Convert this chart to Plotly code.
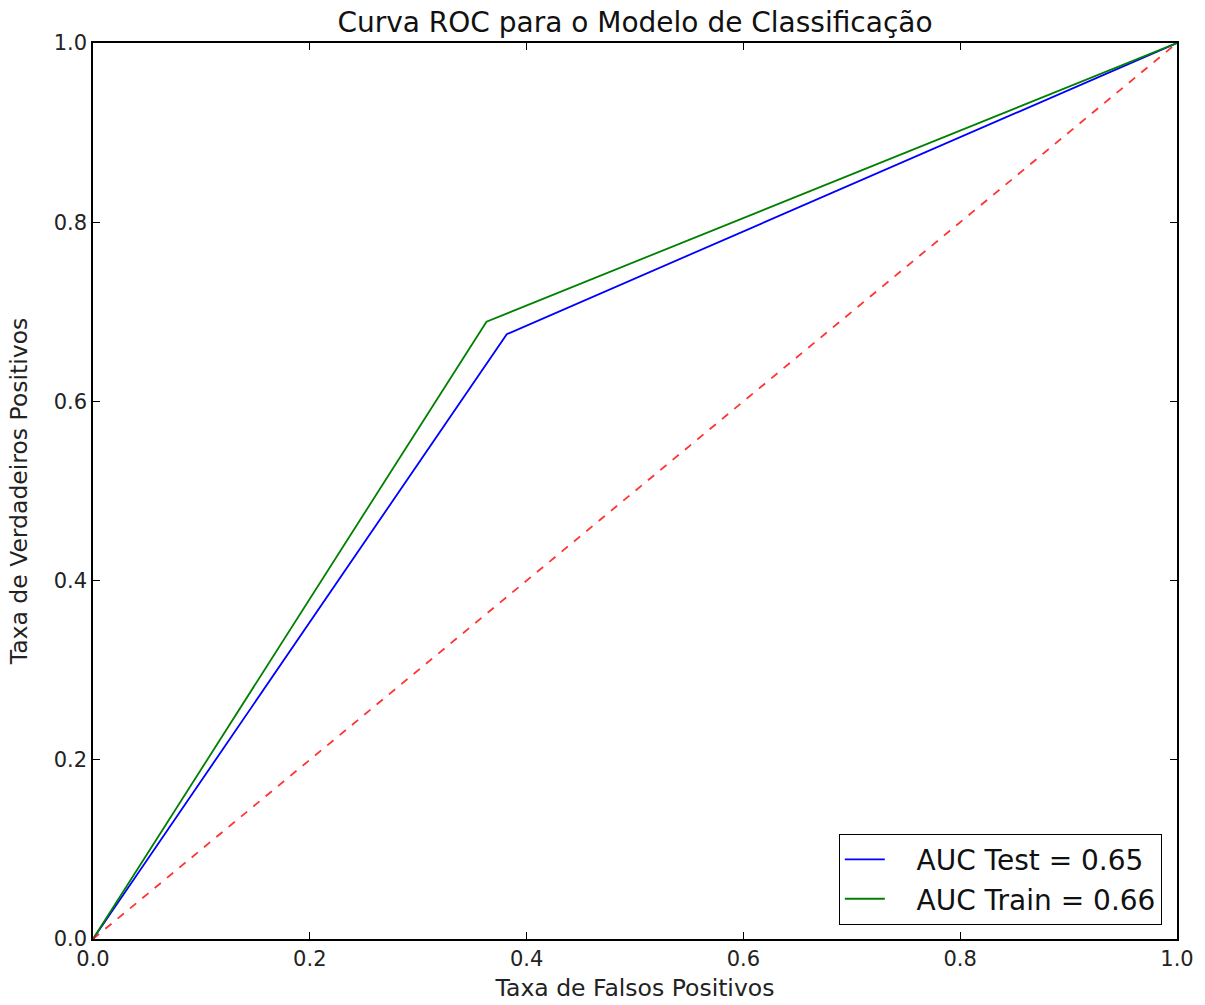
import plotly.graph_objects as go

fpr_test = [0.0, 0.3817, 1.0]
tpr_test = [0.0, 0.675, 1.0]
fpr_train = [0.0, 0.363, 1.0]
tpr_train = [0.0, 0.689, 1.0]
diag = [0.0, 1.0]
auc_test = 0.65
auc_train = 0.66

pad = "\u00a0\u00a0\u00a0"
fig = go.Figure()
fig.add_trace(go.Scatter(x=fpr_test, y=tpr_test, mode="lines",
                         line=dict(color="#0000ff", width=1.8),
                         name=f"{pad}AUC Test = {auc_test:.2f}"))
fig.add_trace(go.Scatter(x=fpr_train, y=tpr_train, mode="lines",
                         line=dict(color="#008000", width=1.8),
                         name=f"{pad}AUC Train = {auc_train:.2f}"))
fig.add_trace(go.Scatter(x=diag, y=diag, mode="lines",
                         line=dict(color="rgba(255,0,0,0.8)", width=1.8, dash="8px,8px"),
                         showlegend=False))

font = "DejaVu Sans"
fig.update_layout(
    width=1205, height=1005,
    margin=dict(l=93, r=28, t=43, b=66),
    plot_bgcolor="white", paper_bgcolor="white",
    font=dict(family=font, color="#222", size=21),
    title=dict(text="Curva ROC para o Modelo de Classificação",
               x=0.5, xref="paper", xanchor="center", y=0.978, yanchor="middle",
               font=dict(size=28, family=font, color="#111")),
    xaxis=dict(range=[0, 1], tickvals=[0, 0.2, 0.4, 0.6, 0.8, 1.0],
               ticktext=["0.0", "0.2", "0.4", "0.6", "0.8", "1.0"],
               ticks="inside", ticklen=7, tickcolor="black", mirror="ticks",
               showline=True, linecolor="black", linewidth=1.5,
               showgrid=False, zeroline=False, automargin=False,
               tickfont=dict(size=21),
               title=dict(text="Taxa de Falsos Positivos", font=dict(size=23.5), standoff=10)),
    yaxis=dict(range=[0, 1], tickvals=[0, 0.2, 0.4, 0.6, 0.8, 1.0],
               ticktext=["0.0", "0.2", "0.4", "0.6", "0.8", "1.0"],
               ticks="inside", ticklen=7, tickcolor="black", mirror="ticks",
               showline=True, linecolor="black", linewidth=1.5,
               showgrid=False, zeroline=False, automargin=False,
               tickfont=dict(size=21),
               title=dict(text="Taxa de Verdadeiros Positivos", font=dict(size=23.5), standoff=19)),
    legend=dict(x=0.986, y=0.016, xanchor="right", yanchor="bottom",
                bordercolor="black", borderwidth=1, bgcolor="white",
                font=dict(size=28, family=font, color="#111"),
                itemwidth=40, tracegroupgap=4),
    showlegend=True,
)

fig.write_html("out.html")
